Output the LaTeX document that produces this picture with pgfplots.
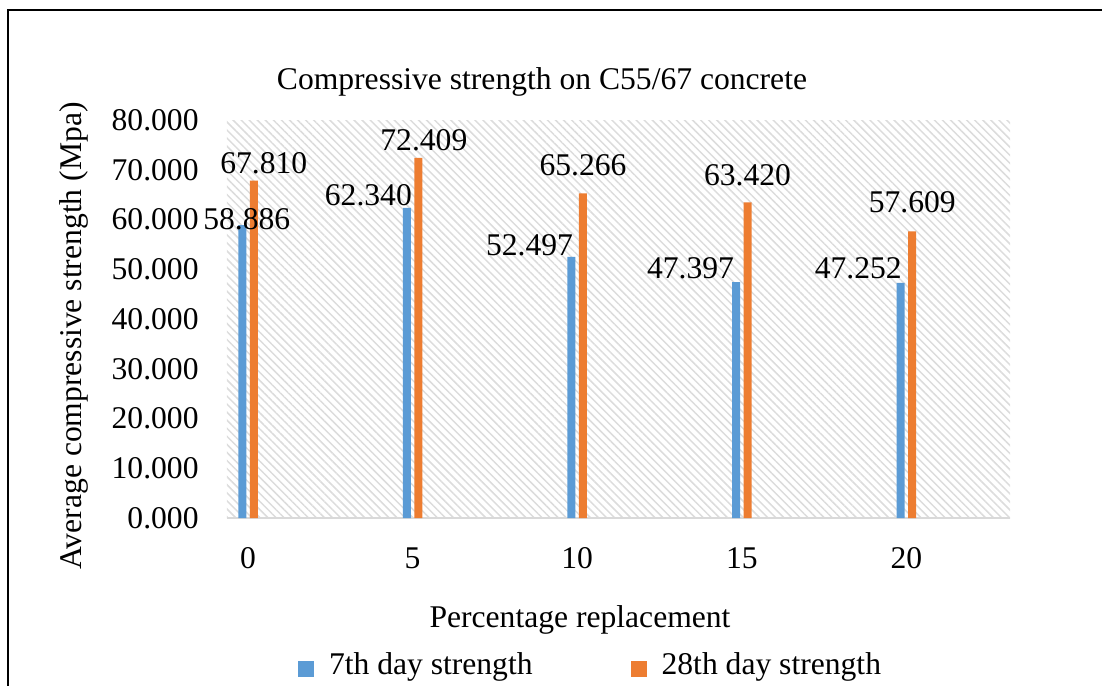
\documentclass[border=0pt]{standalone}
\usepackage{fontspec}
\setmainfont{Liberation Serif}
\usepackage{pgfplots}
\pgfplotsset{compat=1.18}
\usepackage{pgfplotstable}
\usetikzlibrary{patterns.meta}

\definecolor{sevenday}{HTML}{5B9BD5}
\definecolor{twentyeight}{HTML}{ED7D31}
\definecolor{hatchgray}{HTML}{DCDCDC}
\definecolor{basegray}{HTML}{D9D9D9}

% x = category index (0,5,10,15,20 %), y = strength in MPa,
% dx/dy = placement of the value label relative to the bar top (pt)
\pgfplotstableread{
x y dx dy
0 58.886 2.25 3
1 62.340 -19.25 6.5
2 52.497 -21 6
3 47.397 -22.75 7
4 47.252 -21.25 7.5
}\sevendaydata

\pgfplotstableread{
x y dx dy
0 67.810 5 8.5
1 72.409 2.75 9
2 65.266 0 14.25
3 63.420 0 13.5
4 57.609 0 14.5
}\twentyeightdata

\begin{document}
\fontsize{15.8}{19}\selectfont
\begin{tikzpicture}
\useasboundingbox (-113.5pt,-83.5pt) rectangle (437.5pt,259pt);
% outer frame
\draw[line width=1.25pt] (-109.5pt,-120pt) -- (-109.5pt,254pt) -- (470pt,254pt);
\begin{axis}[
  at={(0pt,0pt)}, anchor=south west,
  scale only axis, width=391.5pt, height=199pt,
  clip=false,
  ybar=1.75pt, bar width=4pt,
  xmin=-0.1276, xmax=4.629,
  ymin=0, ymax=80,
  xtick={0,1,2,3,4}, xticklabels={0,5,10,15,20},
  ytick={0,10,...,80},
  /pgf/number format/assume math mode=true,
  yticklabel style={inner sep=0pt, anchor=east, xshift=-14pt,
    /pgf/number format/fixed, /pgf/number format/fixed zerofill,
    /pgf/number format/precision=3},
  xticklabel style={inner sep=0pt, anchor=north, yshift=-14.5pt},
  major tick length=0pt,
  axis lines*=left,
  y axis line style={draw=none},
  x axis line style={draw=basegray, line width=1pt},
  axis background/.style={pattern={Lines[angle=-45, distance=2.85pt, line width=0.75pt]}, pattern color=hatchgray},
  title={Compressive strength on C55/67 concrete},
  title style={at={(axis description cs:0.4023,1.0477)}, anchor=base, inner sep=0pt},
  xlabel={Percentage replacement},
  xlabel style={at={(axis description cs:0.4508,-0.2739)}, anchor=base, inner sep=0pt},
  ylabel={Average compressive strength (Mpa)},
  ylabel style={at={(axis description cs:-0.1852,0.4573)}, anchor=base, inner sep=0pt},
  nodes near coords={\pgfmathprintnumber[fixed, fixed zerofill, precision=3, assume math mode=true]{\pgfplotspointmeta}},
  nodes near coords align={center},
  visualization depends on={\thisrow{dx} \as \labdx},
  visualization depends on={\thisrow{dy} \as \labdy},
  every node near coord/.append style={anchor=center, inner sep=0pt, xshift=\labdx pt, yshift=\labdy pt, text=black},
  legend columns=2,
  legend cell align=left,
  legend image code/.code={\fill[#1] (0pt,-5.5pt) rectangle (8pt,2.5pt);},
  legend style={draw=none, fill=none, inner sep=0pt, outer sep=0pt,
    at={(axis description cs:0.0907,-0.371)}, anchor=west,
    nodes={inner sep=0pt},
    /tikz/every odd column/.style={column sep=7.5pt},
    /tikz/every even column/.style={column sep=49pt}},
]
\addplot[draw=none, fill=sevenday] table[x=x, y=y] {\sevendaydata};
\addplot[draw=none, fill=twentyeight] table[x=x, y=y] {\twentyeightdata};
\legend{7th day strength, 28th day strength}
\end{axis}
\end{tikzpicture}
\end{document}
